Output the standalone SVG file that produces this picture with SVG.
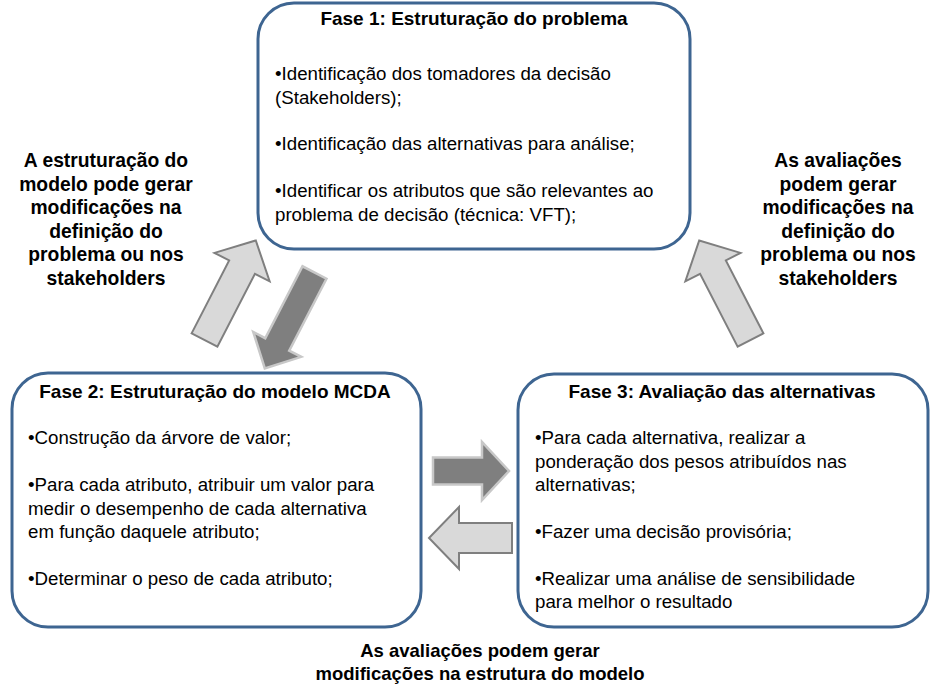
<svg xmlns="http://www.w3.org/2000/svg" width="946" height="693" viewBox="0 0 946 693">
<style>
.box{fill:#ffffff;stroke:#3e6591;stroke-width:3}
.t{font-family:"Liberation Sans",Arial,sans-serif;fill:#000}
.title{font-size:19px;font-weight:bold;text-anchor:middle}
.body{font-size:18.7px}
.lab{font-size:19.3px;font-weight:bold;text-anchor:middle}
.blab{font-size:18.5px;font-weight:bold;text-anchor:middle}
.light{fill:#d9d9d9;stroke:#7f7f7f;stroke-width:2;stroke-linejoin:miter}
.dark{fill:#7f7f7f;stroke:#c8c8c8;stroke-width:2.5;stroke-linejoin:miter}
</style>
<defs>
<path id="lightArrow" d="M0,-14.5 H82 V-31 L112,0 L82,31 V14.5 H0 Z"/>
<path id="darkArrow" d="M0,-13.5 H81 V-27 L108,0 L81,27 V13.5 H0 Z"/>
</defs>
<rect width="946" height="693" fill="#ffffff"/>

<g id="connectors">
<use href="#lightArrow" class="light" transform="translate(204.5,340) rotate(-62.75)"/>
<use href="#darkArrow" class="dark" transform="translate(314.5,272.5) rotate(117.4)"/>
<use href="#lightArrow" class="light" transform="translate(750.5,340) rotate(-117.25)"/>
<path class="dark" d="M433,457.5 H482 V442 L509,471 L482,500 V484.5 H433 Z"/>
<path class="light" d="M512,523 H459 V507 L429,538 L459,569 V553 H512 Z"/>
</g>

<g id="phase1">
<rect class="box" x="258" y="3" width="432" height="246" rx="36" ry="36"/>
<text class="t title" x="474" y="25">Fase 1: Estruturação do problema</text>
<text class="t body" x="275" y="80">•Identificação dos tomadores da decisão</text>
<text class="t body" x="275" y="104">(Stakeholders);</text>
<text class="t body" x="275" y="150">•Identificação das alternativas para análise;</text>
<text class="t body" x="275" y="197">•Identificar os atributos que são relevantes ao</text>
<text class="t body" x="275" y="221">problema de decisão (técnica: VFT);</text>
</g>

<g id="phase2">
<rect class="box" x="12" y="373" width="409" height="254" rx="36" ry="36"/>
<text class="t title" x="215" y="398">Fase 2: Estruturação do modelo MCDA</text>
<text class="t body" x="28" y="444">•Construção da árvore de valor;</text>
<text class="t body" x="28" y="491">•Para cada atributo, atribuir um valor para</text>
<text class="t body" x="28" y="515">medir o desempenho de cada alternativa</text>
<text class="t body" x="28" y="538">em função daquele atributo;</text>
<text class="t body" x="28" y="585">•Determinar o peso de cada atributo;</text>
</g>

<g id="phase3">
<rect class="box" x="518" y="374" width="410" height="253" rx="36" ry="36"/>
<text class="t title" x="722" y="398">Fase 3: Avaliação das alternativas</text>
<text class="t body" x="535" y="444">•Para cada alternativa, realizar a</text>
<text class="t body" x="535" y="468">ponderação dos pesos atribuídos nas</text>
<text class="t body" x="535" y="491">alternativas;</text>
<text class="t body" x="535" y="538">•Fazer uma decisão provisória;</text>
<text class="t body" x="535" y="585">•Realizar uma análise de sensibilidade</text>
<text class="t body" x="535" y="608">para melhor o resultado</text>
</g>

<g id="labels">
<text class="t lab" x="106" y="167">A estruturação do</text>
<text class="t lab" x="106" y="191">modelo pode gerar</text>
<text class="t lab" x="106" y="214">modificações na</text>
<text class="t lab" x="106" y="238">definição do</text>
<text class="t lab" x="106" y="261">problema ou nos</text>
<text class="t lab" x="106" y="285">stakeholders</text>
<text class="t lab" x="838" y="167">As avaliações</text>
<text class="t lab" x="838" y="191">podem gerar</text>
<text class="t lab" x="838" y="214">modificações na</text>
<text class="t lab" x="838" y="238">definição do</text>
<text class="t lab" x="838" y="261">problema ou nos</text>
<text class="t lab" x="838" y="285">stakeholders</text>
<text class="t blab" x="480" y="657">As avaliações podem gerar</text>
<text class="t blab" x="480" y="680">modificações na estrutura do modelo</text>
</g>
</svg>
